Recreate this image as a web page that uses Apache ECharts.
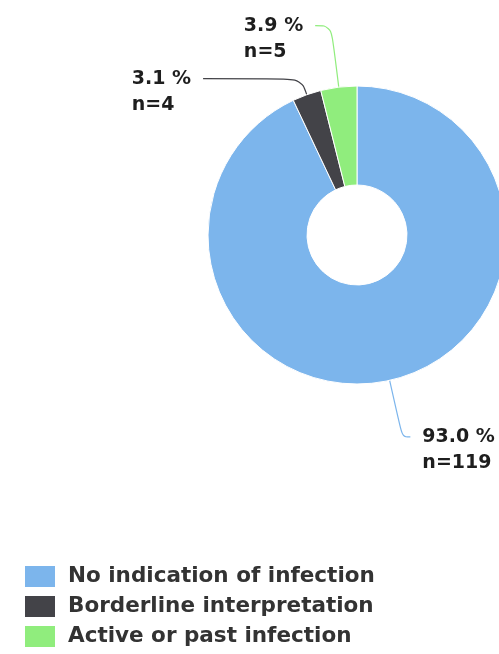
<!DOCTYPE html>
<html>
<head>
<meta charset="utf-8">
<script src="https://cdn.jsdelivr.net/npm/echarts@6/dist/echarts.min.js"></script>
<style>
html,body{margin:0;padding:0;background:#fff;}
#chart{width:499px;height:654px;}
</style>
</head>
<body>
<div id="chart"></div>
<script>
const categories = ['No indication of infection', 'Borderline interpretation', 'Active or past infection'];
const counts = [119, 4, 5];
const colors = ['#7cb5ec', '#434348', '#90ed7d'];

const total = counts.reduce((a, b) => a + b, 0);
const lineCfg = [
  { length: 58, length2: 8 },
  { length: 17, length2: 98 },
  { length: 62, length2: 16 }
];

const data = categories.map((name, i) => ({
  name: name,
  value: counts[i],
  itemStyle: { color: colors[i] },
  labelLine: Object.assign({ lineStyle: { color: colors[i], width: 1.2 } }, lineCfg[i])
}));

const chart = echarts.init(document.getElementById('chart'), null, { renderer: 'canvas' });
chart.setOption({
  animation: false,
  backgroundColor: '#ffffff',
  legend: {
    orient: 'vertical',
    left: 23,
    top: 564,
    padding: 0,
    height: 90,
    itemWidth: 32,
    itemHeight: 23,
    itemGap: 5,
    icon: 'rect',
    data: categories,
    textStyle: {
      fontFamily: 'DejaVu Sans',
      fontWeight: 'bold',
      fontSize: 21.5,
      lineHeight: 23,
      color: '#333333',
      padding: [0, 0, 0, 7]
    }
  },
  series: [{
    type: 'pie',
    left: 0,
    top: 0,
    width: 700,
    height: 654,
    center: [357, 235],
    radius: [50, 149],
    startAngle: 90,
    clockwise: true,
    avoidLabelOverlap: false,
    itemStyle: { borderColor: '#ffffff', borderWidth: 1 },
    label: {
      show: true,
      position: 'outside',
      overflow: 'none',
      bleedMargin: 0,
      distanceToLabelLine: 12,
      fontFamily: 'DejaVu Sans',
      fontWeight: 'bold',
      fontSize: 19,
      lineHeight: 26,
      color: '#1e1e1e',
      formatter: function (p) {
        return '{t|}\n{t|' + (p.value / total * 100).toFixed(1) + ' %}\n{t|n=' + p.value + '}';
      },
      rich: {
        t: {
          align: 'left',
          fontFamily: 'DejaVu Sans',
          fontWeight: 'bold',
          fontSize: 19,
          lineHeight: 26,
          color: '#1e1e1e'
        }
      }
    },
    labelLine: { show: true, smooth: 0.4 },
    emphasis: { disabled: true },
    data: data
  }]
});
</script>
</body>
</html>
